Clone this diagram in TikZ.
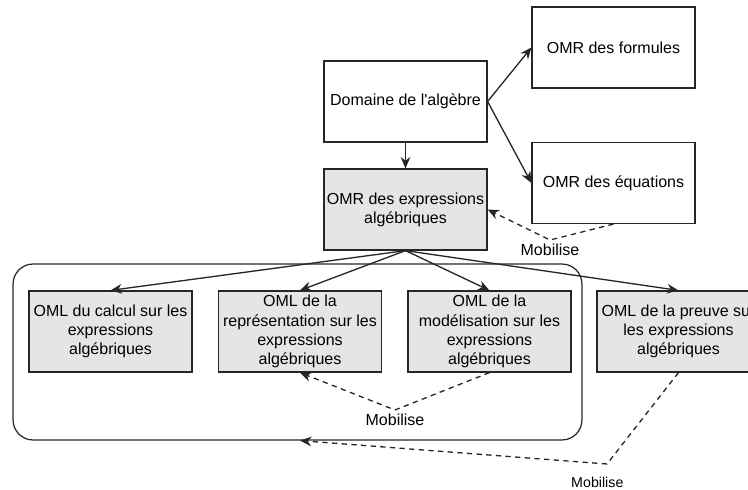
\documentclass[tikz,border=0pt]{standalone}
\usepackage{fontspec}
\setmainfont{Liberation Sans}
\usetikzlibrary{arrows.meta}

\tikzset{
  boite/.style={draw=black!85,line width=0.7pt,minimum width=3.26cm,minimum height=1.62cm,
    inner sep=0pt,align=center,font=\fontsize{9.1}{10.9}\selectfont},
  omr/.style={boite,fill=white},
  oml/.style={boite,fill=gray!20},
  fleche/.style={draw=black!85,line width=0.75pt,-{Stealth[length=6.5pt,width=5.5pt]}},
  mobilise/.style={fleche,dash pattern=on 3pt off 2.5pt},
  etiq/.style={font=\fontsize{9.1}{10.9}\selectfont,inner sep=1pt}
}

\begin{document}
\begin{tikzpicture}[x=0.02cm,y=-0.02cm]
\useasboundingbox (0,0) rectangle (748,490);
\clip (0,0) rectangle (748,490);

% cadre des OML
\node[draw=black!85,line width=0.7pt,rounded corners=0.4cm,minimum width=11.38cm,minimum height=3.52cm] (cadre) at (297.5,352) {};

\node[omr] (dom) at (405.5,101.5) {Domaine de l\textquotesingle algèbre};
\node[omr] (formules) at (613.5,47.5) {OMR des formules};
\node[omr] (equations) at (613.5,183) {OMR des équations};
\node[oml] (expr) at (405.5,209.5) {OMR des expressions\\algébriques};

\node[oml] (calcul) at (110.5,331.5) {OML du calcul sur les\\expressions\\algébriques};
\node[oml] (repr) at (300,331.5) {OML de la\\représentation sur les\\expressions\\algébriques};
\node[oml] (model) at (489.5,331.5) {OML de la\\modélisation sur les\\expressions\\algébriques};
\node[oml] (preuve) at (678.5,331.5) {OML de la preuve sur\\les expressions\\algébriques};

\draw[fleche] (dom) -- (expr);
\draw[fleche] (dom.east) -- (formules.west);
\draw[fleche] (dom.east) -- (equations.west);
\foreach \n in {calcul,repr,model,preuve}
  \draw[fleche] (expr.south) -- (\n.north);

% liens "Mobilise"
\draw[mobilise] (equations.south) -- (550,240) node[etiq,below=1pt]{Mobilise} -- (expr.east);
\draw[mobilise] (model.south) -- (395,410) node[etiq,below=1pt]{Mobilise} -- (repr.south);
\draw[mobilise] (preuve.south) -- (607,464) node[etiq,below=6pt,xshift=-5.5pt,font=\fontsize{8.1}{9.7}\selectfont]{Mobilise} -- (cadre.south -| repr.south);

\end{tikzpicture}
\end{document}
